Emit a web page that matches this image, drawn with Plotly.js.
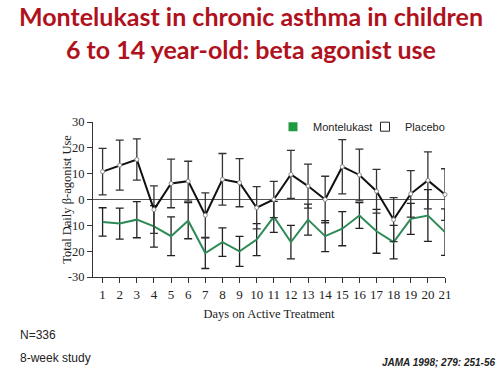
<!DOCTYPE html>
<html>
<head>
<meta charset="utf-8">
<script src="https://cdn.plot.ly/plotly-3.0.1.min.js"></script>
<style>html,body{margin:0;padding:0;background:#fff;}#chart{width:502px;height:376px;}</style>
</head>
<body>
<div id="chart"></div>
<script>
const days = [1,2,3,4,5,6,7,8,9,10,11,12,13,14,15,16,17,18,19,20,21];
const placebo = [10.8,13.3,15.5,-3.9,6.2,7.1,-6.1,7.8,6.5,-3.2,0,9.7,5.2,0,12.7,9.5,3.2,-7.8,2.2,7.4,1.9];
const placeboErr = [9,9.7,8,9.2,9.4,7.7,8.7,10,9.3,8.2,7,9.3,8.5,9,10.5,10,8.5,8.5,9,11,10];
const montelukast = [-8.7,-9.3,-7.8,-10.4,-14.2,-8.2,-20.7,-16.5,-20.1,-15.5,-6.7,-16.5,-7.8,-14.2,-11.3,-6.2,-12.3,-16.5,-7.5,-6.2,-12.6];
const montelukastErr = [5.5,6,7,8,7.5,7,6,5.5,5.8,6.2,6,6.5,6,6,6.6,5,8.5,6.5,6,10,9];
const yTickVals = [30,20,10,0,-10,-20,-30];
const yTickText = ['30','20','10','0','-10','-20','-30'];

const serif = 'Liberation Serif, DejaVu Serif, serif';
const sans = 'Liberation Sans, Arial, sans-serif';

const traces = [
  {
    x: days, y: montelukast, type: 'scatter', mode: 'lines',
    line: {color: '#2e8b57', width: 2},
    error_y: {type: 'data', array: montelukastErr, visible: true, color: '#222', thickness: 1.3, width: 4},
    showlegend: false, cliponaxis: false, hoverinfo: 'skip'
  },
  {
    x: days, y: placebo, type: 'scatter', mode: 'lines+markers',
    line: {color: '#111', width: 2},
    marker: {symbol: 'circle', size: 4, color: '#fff', line: {color: '#888', width: 1}},
    error_y: {type: 'data', array: placeboErr, visible: true, color: '#333', thickness: 1.3, width: 4},
    showlegend: false, cliponaxis: false, hoverinfo: 'skip'
  },
  {
    x: [null], y: [null], type: 'scatter', mode: 'markers', name: 'Montelukast',
    marker: {symbol: 'square', size: 9, color: '#1f9a3e'}, showlegend: true
  },
  {
    x: [null], y: [null], type: 'scatter', mode: 'markers', name: 'Placebo',
    marker: {symbol: 'square', size: 9, color: '#fff', line: {color: '#222', width: 1}}, showlegend: true
  }
];

const L = 92.7, R = 445.3, T = 122.3, B = 276.7;
const W = R - L, H = B - T;
const px = v => (v - L) / W;
const py = v => (B - v) / H;

const layout = {
  width: 502, height: 376,
  margin: {l: L, r: 502 - R, t: T, b: 376 - B, pad: 0},
  paper_bgcolor: '#fff', plot_bgcolor: '#fff',
  title: {
    text: '<b>Montelukast in chronic asthma in children<br>6 to 14 year-old: beta agonist use</b>',
    font: {family: 'Lato, Open Sans, sans-serif', size: 25, color: '#b0121d'},
    x: 0.5, xanchor: 'center', xref: 'container', y: 0.93, yanchor: 'top'
  },
  xaxis: {
    range: [0.44, 21], showgrid: false, zeroline: false,
    showline: true, linecolor: '#333', linewidth: 1,
    ticks: 'outside', ticklen: 5, tickcolor: '#333', tickwidth: 1,
    tickvals: days, ticktext: days.map(String),
    tickfont: {family: serif, size: 13, color: '#222'},
    title: {text: 'Days on Active Treatment', font: {family: serif, size: 12.5, color: '#222'}, standoff: 8}
  },
  yaxis: {
    range: [-30, 30], showgrid: false,
    zeroline: true, zerolinecolor: '#555', zerolinewidth: 1,
    showline: true, linecolor: '#333', linewidth: 1,
    ticks: 'outside', ticklen: 5, tickcolor: '#333', tickwidth: 1,
    tickvals: yTickVals, ticktext: yTickText,
    tickfont: {family: serif, size: 12.5, color: '#222'}
  },
  legend: {
    orientation: 'h', x: px(273), xanchor: 'left', y: py(127), yanchor: 'middle',
    font: {family: sans, size: 11, color: '#222'}, bgcolor: 'rgba(0,0,0,0)',
    itemwidth: 30, traceorder: 'normal', entrywidth: 47, entrywidthmode: 'pixels'
  },
  showlegend: true,
  annotations: [
    {text: 'Total Daily β-agonist Use', xref: 'paper', yref: 'paper', x: px(66), y: 0.5, xanchor: 'center', yanchor: 'middle', textangle: -90, showarrow: false, font: {family: serif, size: 12.5, color: '#222'}},
    {text: 'N=336', xref: 'paper', yref: 'paper', x: px(18), y: py(334), xanchor: 'left', yanchor: 'middle', showarrow: false, font: {family: sans, size: 12, color: '#222'}},
    {text: '8-week study', xref: 'paper', yref: 'paper', x: px(18), y: py(357), xanchor: 'left', yanchor: 'middle', showarrow: false, font: {family: sans, size: 12, color: '#222'}},
    {text: '<b><i>JAMA 1998; 279: 251-56</i></b>', xref: 'paper', yref: 'paper', x: px(497), y: py(362), xanchor: 'right', yanchor: 'middle', showarrow: false, font: {family: sans, size: 10, color: '#222'}}
  ]
};

Plotly.newPlot('chart', traces, layout, {displayModeBar: false, staticPlot: true});
</script>
</body>
</html>
